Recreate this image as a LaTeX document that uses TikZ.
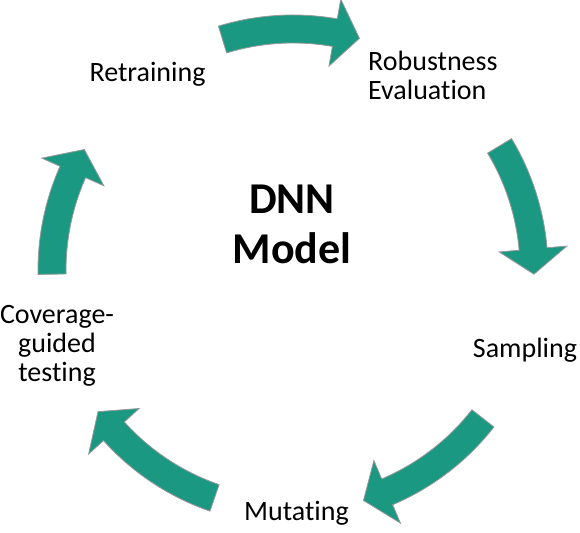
\documentclass[tikz,border=0pt]{standalone}
\usepackage{fontspec}
\setmainfont{Carlito}[Ligatures=NoCommon]
\definecolor{cyclefill}{HTML}{1A9882}

\begin{document}
\begin{tikzpicture}[x=1pt, y=1pt, font=\fontsize{28}{29}\selectfont,
	every node/.style={inner sep=0pt}]
	\useasboundingbox (0,0) rectangle (580,532);
	%arrows
	\begin{scope}[shift={(293,262)}]
	\foreach \tail/\tip in {107/74, 31/-1, -38/-73, -109/-144, 181/150}
	\filldraw[fill=cyclefill, draw=gray!80, line width=.8pt]
		(\tail:255) arc[start angle=\tail, end angle=\tip+6, radius=255]
		-- (\tip+6:275) -- (\tip:241) -- (\tip+6:207) -- (\tip+6:227)
		arc[start angle=\tip+6, end angle=\tail, radius=227] -- cycle;
	\end{scope}
	%labels
	\node[anchor=base] (retrain) at (147.5,450) {Retraining};
	\node[anchor=base west, align=left] (robust) at (368,432) {Robustness\\Evaluation};
	\node[anchor=base] (sampling) at (525,174) {Sampling};
	\node[anchor=base] (mutating) at (296.5,12) {Mutating};
	\node[anchor=base, align=center] (coverage) at (57,150) {Coverage-\\guided\\testing};
	%centre
	\node[anchor=base, align=center, font=\fontsize{44}{50}\selectfont\bfseries]
		(dnn) at (292,268) {DNN\\Model};
\end{tikzpicture}
\end{document}
